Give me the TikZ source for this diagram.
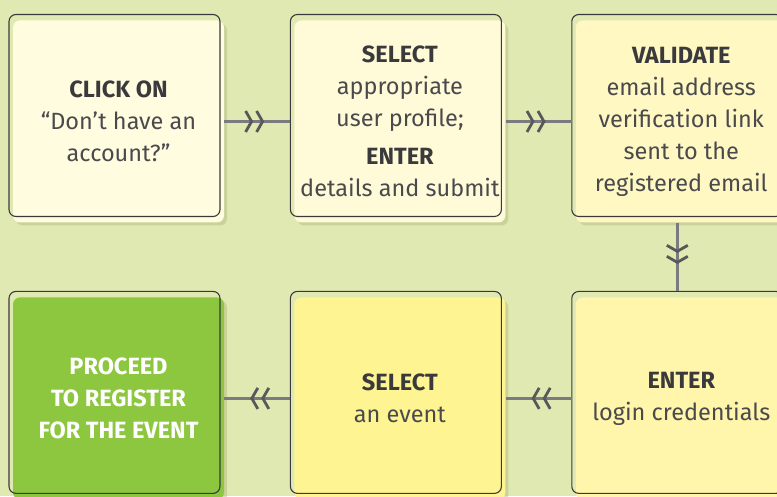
\documentclass[tikz,border=0pt]{standalone}
\usepackage{fontspec}
\setmainfont{Fira Sans}
\usetikzlibrary{positioning,arrows.meta,decorations.markings,shadows}

\definecolor{pagebg}{HTML}{E1E9B3}
\definecolor{shadowgreen}{HTML}{9DA86A}
\definecolor{boxline}{HTML}{3A3A3C}
\definecolor{textgray}{HTML}{4A4A4D}
\definecolor{headgray}{HTML}{3A3A3C}
\definecolor{linegray}{HTML}{7A7B7E}
\definecolor{chevgray}{HTML}{58585B}
\definecolor{creamA}{HTML}{FFFCDF}
\definecolor{creamB}{HTML}{FFFBD9}
\definecolor{creamC}{HTML}{FFF8C3}
\definecolor{creamD}{HTML}{FFF5AB}
\definecolor{creamE}{HTML}{FFF492}
\definecolor{gogreen}{HTML}{8DC63F}

\tikzset{
  card/.style={fill=#1, minimum width=211pt, minimum height=202pt,
    rounded corners=7pt, align=center, text=textgray,
    font=\fontsize{23.5}{32}\selectfont,
    drop shadow={shadow xshift=3pt, shadow yshift=-3pt, opacity=0.35, fill=shadowgreen},
    postaction={draw=boxline, line width=1.1pt, transform canvas={shift={(-4pt,6pt)}}}},
  flow/.style={draw=linegray, line width=2.6pt, postaction={decorate},
    decoration={markings, mark=at position 0.5 with
      {\arrow[chevgray, xshift=7pt]{Straight Barb[length=6pt,width=21pt,line width=2.8pt,sep=2pt] Straight Barb[length=6pt,width=21pt,line width=2.8pt]}}}},
}
\newcommand{\hd}[1]{{\color{headgray}\bfseries #1}}

\begin{document}
\begin{tikzpicture}
\fill[pagebg] (0,0) rectangle (777pt,496pt);
\useasboundingbox (0,0) rectangle (777pt,496pt);

% top row
\node [card=creamA] (b1) at (118.5pt,374.5pt)
  {\hd{CLICK ON}\\“Don’t have an\\account?”};
\node [card=creamB, right=70pt of b1] (b2)
  {\hd{SELECT}\\appropriate\\user profile;\\[6pt]\hd{ENTER}\\details and submit};
\node [card=creamC, right=70pt of b2] (b3)
  {\hd{VALIDATE}\\email address\\verification link\\sent to the\\registered email};

% bottom row
\node [card=creamD, below=74.5pt of b3] (b6)
  {\hd{ENTER}\\login credentials};
\node [card=creamE, left=70pt of b6] (b5)
  {\hd{SELECT}\\an event};
\node [card=gogreen, left=70pt of b5, text=white, font=\fontsize{23.5}{32}\selectfont\bfseries] (b4)
  {PROCEED\\TO REGISTER\\FOR THE EVENT};

% connectors
\draw [flow] (b1.east) -- ([xshift=-4pt]b2.west);
\draw [flow] (b2.east) -- ([xshift=-4pt]b3.west);
\draw [flow] ([xshift=-4pt]b3.south) -- ([xshift=-4pt,yshift=6pt]b6.north);
\draw [flow] ([xshift=-4pt]b6.west) -- (b5.east);
\draw [flow] ([xshift=-4pt]b5.west) -- (b4.east);
\end{tikzpicture}
\end{document}
